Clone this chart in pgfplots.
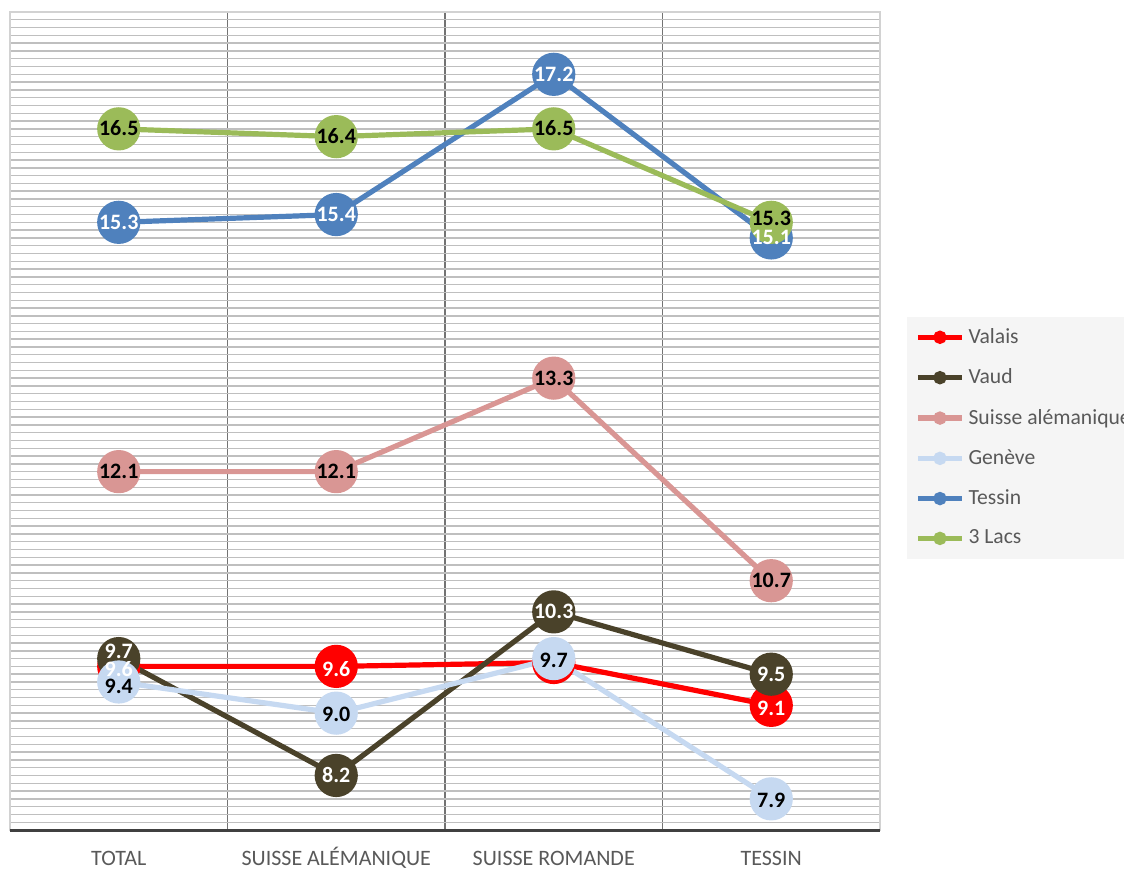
\documentclass[border=0pt]{standalone}
\usepackage{pgfplots}
\pgfplotsset{compat=1.18}
\usepackage{fontspec}
\setmainfont{Carlito}
\definecolor{cValais}{RGB}{255,0,0}
\definecolor{cVaud}{RGB}{74,66,42}
\definecolor{cSA}{RGB}{217,150,148}
\definecolor{cGE}{RGB}{198,217,241}
\definecolor{cTI}{RGB}{79,129,189}
\definecolor{cLacs}{RGB}{155,187,89}
\definecolor{txtgray}{RGB}{89,89,89}
\begin{document}
\begin{tikzpicture}
\begin{axis}[
  at={(5pt,19pt)}, anchor=south west,
  scale only axis, width=435pt, height=409pt,
  xmin=-0.5, xmax=3.5, ymin=7.5, ymax=18,
  xtick={0,1,2,3},
  xticklabels={TOTAL,SUISSE ALÉMANIQUE,SUISSE ROMANDE,TESSIN},
  xticklabel style={font=\fontsize{11}{13}\selectfont, text=txtgray, text height=7.5pt, text depth=1pt, anchor=north, yshift=-6.5pt},
  minor xtick={-0.5,0.5,1.5,2.5,3.5},
  xminorgrids=true,
  minor x grid style={draw=black!55, line width=0.6pt},
  ytick={7.5,7.6,...,18.05},
  yticklabels={},
  ymajorgrids=true,
  major y grid style={draw=gray!50, line width=0.7pt},
  major tick length=0pt, minor tick length=0pt,
  axis line style={draw=gray!35, line width=0.6pt},
  clip=false,
  legend style={at={(1.031,0.628)}, anchor=north west, fill=black!4, draw=none,
    font=\fontsize{10.8}{12}\selectfont, text=txtgray, row sep=7.2pt,
    inner xsep=4pt, inner ysep=3.8pt},
  legend cell align=left,
  legend image code/.code={\draw[#1, mark size=2pt, mark repeat=2, mark phase=2]
     plot coordinates {(0pt,0pt) (11pt,0pt) (22pt,0pt)};},
  every axis plot/.append style={line width=2.6pt, mark=*, mark size=9.5pt},
]
\addplot[color=cValais, mark options={fill=cValais}] coordinates {(0,9.6) (1,9.6) (2,9.65) (3,9.1)};
\addlegendentry{Valais}
\addplot[color=cVaud, mark options={fill=cVaud}] coordinates {(0,9.7) (1,8.2) (2,10.3) (3,9.5)};
\addlegendentry{Vaud}
\addplot[color=cSA, mark options={fill=cSA}] coordinates {(0,12.1) (1,12.1) (2,13.3) (3,10.7)};
\addlegendentry{Suisse alémanique}
\addplot[color=cGE, mark options={fill=cGE}] coordinates {(0,9.4) (1,9.0) (2,9.7) (3,7.9)};
\addlegendentry{Genève}
\addplot[color=cTI, mark options={fill=cTI}] coordinates {(0,15.3) (1,15.4) (2,17.2) (3,15.1)};
\addlegendentry{Tessin}
\addplot[color=cLacs, mark options={fill=cLacs}] coordinates {(0,16.5) (1,16.4) (2,16.5) (3,15.3)};
\addlegendentry{3 Lacs}
% data labels on top of all markers
\pgfplotsset{lbl/.style={draw=none, mark=none, forget plot, nodes near coords={\pgfmathprintnumber[fixed,fixed zerofill,precision=1,assume math mode=true]{\pgfplotspointmeta}},
   every node near coord/.append style={anchor=center, inner sep=0.2pt, text height=7pt, text depth=0pt, font=\fontsize{11}{12}\selectfont\bfseries, text=#1}}}
\addplot[lbl=white, every node near coord/.append style={yshift=-1.5pt}] coordinates {(0,9.6) (1,9.6) (3,9.1)};
\addplot[lbl=white, every node near coord/.append style={yshift=3.5pt}] coordinates {(0,9.7)};
\addplot[lbl=white] coordinates {(1,8.2) (2,10.3) (3,9.5)};
\addplot[lbl=black] coordinates {(0,12.1) (1,12.1) (2,13.3) (3,10.7)};
\addplot[lbl=black, every node near coord/.append style={yshift=-2.3pt}] coordinates {(0,9.4)};
\addplot[lbl=black, every node near coord/.append style={yshift=-0.8pt}] coordinates {(1,9.0) (2,9.7) (3,7.9)};
\addplot[lbl=white] coordinates {(0,15.3) (1,15.4) (2,17.2) (3,15.1)};
\addplot[lbl=black] coordinates {(0,16.5) (1,16.4) (2,16.5)};
\addplot[lbl=black, every node near coord/.append style={yshift=2pt}] coordinates {(3,15.3)};
\draw[line width=1.5pt, draw=black!75] (rel axis cs:0,0) -- (rel axis cs:1,0);
\end{axis}
\pgfresetboundingbox
\useasboundingbox (0,0) rectangle (562pt,434pt);
\end{tikzpicture}
\end{document}
